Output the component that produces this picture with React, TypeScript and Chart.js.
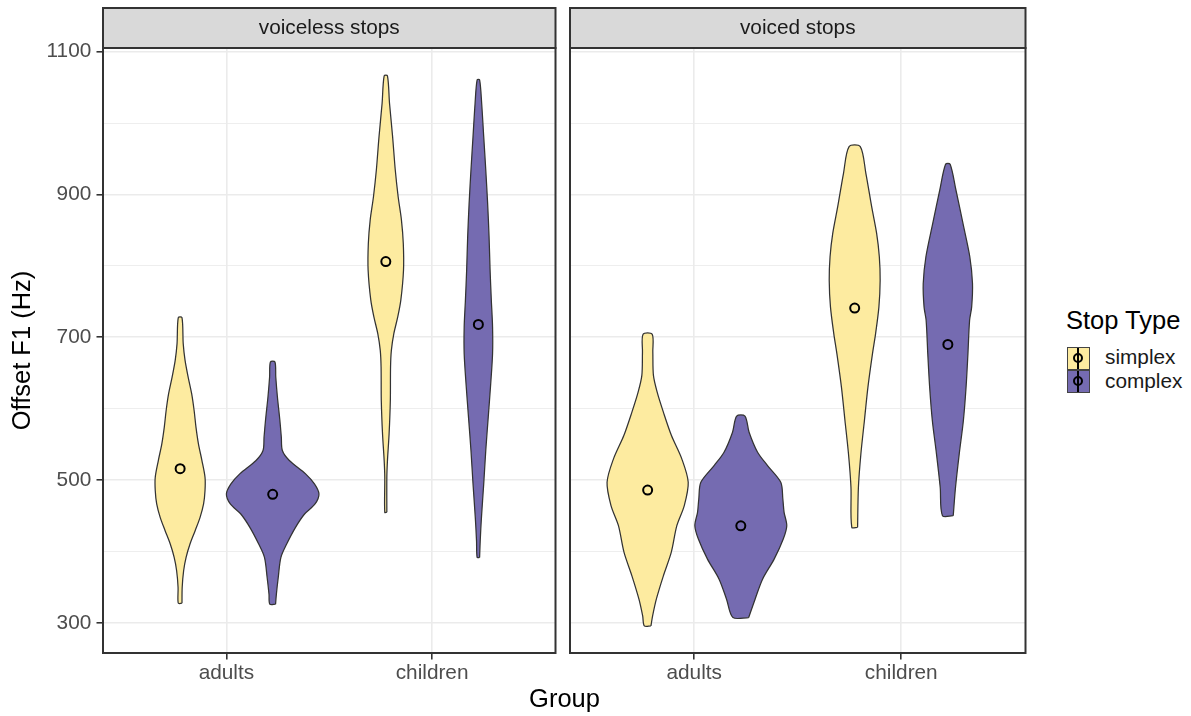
import React, { useEffect, useRef } from 'react';
import { Chart, registerables } from 'chart.js';

Chart.register(...registerables);

const FONT = '"Liberation Sans", Arial, Helvetica, sans-serif';

const groups = ['adults', 'children'];
const stopTypes = ['simplex', 'complex'];
const facetLabels = ['voiceless stops', 'voiced stops'];
const yMajorTicks = [300, 500, 700, 900, 1100];
const yMinorTicks = [400, 600, 800, 1000];
const yLimits = [257.8, 1105.2];
const xLimits = [0.4, 2.6];
const DODGE = 0.225;
const fillColors = ['#FDEBA0', '#756BB1'];

// Violin outlines: y values (Hz) and half-widths (in x-category units)
// voiceless stops
const vlAdSimY = [327.6, 349.6, 373.0, 391.7, 410.4, 429.1, 447.8, 466.6, 485.3, 504.0, 527.4, 550.8, 574.2, 597.5, 621.0, 644.3, 667.7, 691.1, 727.6];
const vlAdSimW = [0.009, 0.010, 0.017, 0.029, 0.048, 0.073, 0.097, 0.114, 0.121, 0.121, 0.106, 0.089, 0.077, 0.068, 0.056, 0.039, 0.024, 0.015, 0.009];
const vlAdComY = [326.2, 340.2, 363.6, 391.7, 410.4, 433.8, 452.5, 466.6, 480.6, 494.6, 508.7, 527.4, 541.4, 560.1, 583.5, 616.3, 644.3, 665.4];
const vlAdComW = [0.014, 0.018, 0.027, 0.040, 0.068, 0.111, 0.155, 0.206, 0.225, 0.203, 0.160, 0.081, 0.047, 0.042, 0.035, 0.023, 0.015, 0.011];
const vlChSimY = [454.8, 503.9, 527.4, 564.8, 611.6, 658.3, 681.7, 705.1, 728.5, 752.0, 794.0, 831.4, 864.2, 896.9, 934.3, 981.1, 1027.9, 1066.3];
const vlChSimW = [0.005, 0.005, 0.008, 0.016, 0.022, 0.023, 0.027, 0.039, 0.058, 0.073, 0.086, 0.085, 0.076, 0.060, 0.046, 0.033, 0.018, 0.008];
const vlChComY = [391.7, 415.1, 447.8, 494.6, 541.4, 588.2, 634.9, 677.0, 714.5, 752.0, 794.0, 840.8, 887.6, 934.3, 981.1, 1027.9, 1060.7];
const vlChComW = [0.006, 0.009, 0.015, 0.026, 0.036, 0.048, 0.060, 0.069, 0.069, 0.063, 0.057, 0.052, 0.045, 0.036, 0.026, 0.016, 0.006];
// voiced stops
const vdAdSimY = [295.8, 309.8, 333.2, 365.9, 398.7, 436.1, 464.2, 496.9, 529.7, 562.4, 595.2, 623.2, 646.6, 679.4, 704.2];
const vdAdSimW = [0.016, 0.024, 0.042, 0.076, 0.114, 0.141, 0.177, 0.196, 0.165, 0.115, 0.076, 0.046, 0.028, 0.025, 0.022];
const vdAdComY = [307.5, 333.2, 361.2, 389.3, 417.4, 436.1, 454.8, 473.5, 496.9, 520.3, 539.0, 567.1, 589.5];
const vdAdComW = [0.038, 0.069, 0.105, 0.161, 0.205, 0.222, 0.209, 0.203, 0.193, 0.129, 0.081, 0.040, 0.020];
const vdChSimY = [433.9, 490.0, 536.8, 583.5, 630.3, 677.1, 705.2, 742.6, 780.0, 812.8, 845.5, 882.9, 929.7, 967.1];
const vdChSimW = [0.014, 0.018, 0.030, 0.047, 0.064, 0.086, 0.101, 0.117, 0.123, 0.119, 0.106, 0.082, 0.054, 0.027];
const vdChComY = [450.2, 490.0, 536.8, 583.5, 630.3, 677.1, 723.9, 742.6, 775.3, 812.8, 859.5, 906.3, 942.3];
const vdChComW = [0.026, 0.037, 0.055, 0.075, 0.088, 0.097, 0.105, 0.115, 0.119, 0.106, 0.073, 0.039, 0.011];

// Means: adults-simplex, adults-complex, children-simplex, children-complex
const voicelessMeans = [516, 480, 806, 718];
const voicedMeans = [486, 436, 741, 690];

const panels = [
  {
    label: facetLabels[0],
    violins: [[vlAdSimY, vlAdSimW], [vlAdComY, vlAdComW], [vlChSimY, vlChSimW], [vlChComY, vlChComW]],
    means: voicelessMeans,
  },
  {
    label: facetLabels[1],
    violins: [[vdAdSimY, vdAdSimW], [vdAdComY, vdAdComW], [vdChSimY, vdChSimW], [vdChComY, vdChComW]],
    means: voicedMeans,
  },
];

const xPos = (k: number) => 1 + Math.floor(k / 2) + (k % 2 === 0 ? -DODGE : DODGE);

function buildDatasets(panel: any) {
  const ds: any[] = [];
  ds.push({
    type: 'line',
    label: 'means',
    data: panel.means.map((m: number, k: number) => ({ x: xPos(k), y: m })),
    showLine: false,
    pointStyle: 'circle',
    pointRadius: 4.5,
    pointBorderWidth: 2,
    pointBorderColor: '#000000',
    pointBackgroundColor: 'rgba(0,0,0,0)',
    order: 0,
  });
  panel.violins.forEach(([ys, ws]: [number[], number[]], k: number) => {
    const c = xPos(k);
    const right = ys.map((y, i) => ({ x: c + ws[i], y }));
    const left = ys.map((y, i) => ({ x: c - ws[i], y })).reverse();
    const pts = [...right, ...left, right[0]];
    ds.push({
      type: 'line',
      label: stopTypes[k % 2],
      data: pts,
      fill: 'shape',
      backgroundColor: fillColors[k % 2],
      borderColor: '#333333',
      borderWidth: 1.25,
      borderJoinStyle: 'round',
      pointRadius: 0,
      tension: 0.3,
      order: 1,
    });
  });
  return ds;
}

const decoPlugin = (label: string) => ({
  id: 'panelDeco',
  afterDraw(chart: any) {
    const { ctx, chartArea: a } = chart;
    const stripTop = 8;
    ctx.save();
    ctx.fillStyle = '#D9D9D9';
    ctx.fillRect(a.left, stripTop, a.right - a.left, a.top - stripTop);
    ctx.strokeStyle = '#333333';
    ctx.lineWidth = 2;
    ctx.strokeRect(a.left, stripTop, a.right - a.left, a.top - stripTop);
    ctx.strokeRect(a.left, a.top, a.right - a.left, a.bottom - a.top);
    ctx.fillStyle = '#1A1A1A';
    ctx.font = `20.8px ${FONT}`;
    ctx.textAlign = 'center';
    ctx.textBaseline = 'middle';
    ctx.fillText(label, (a.left + a.right) / 2, (stripTop + a.top) / 2 + 0.5);
    ctx.restore();
  },
});

const isMajor = (v: number) => yMajorTicks.includes(v);

function Panel({ panel, showY, left, width, yAxisWidth, padLeft, padRight }: any) {
  const ref = useRef<HTMLCanvasElement>(null);
  useEffect(() => {
    if (!ref.current) return;
    const chart = new Chart(ref.current, {
      type: 'line',
      data: { datasets: buildDatasets(panel) },
      options: {
        animation: false,
        responsive: false,
        events: [],
        layout: { padding: { left: padLeft, right: padRight, top: 48, bottom: 0 } },
        plugins: { legend: { display: false }, tooltip: { enabled: false } },
        scales: {
          x: {
            type: 'linear',
            min: xLimits[0],
            max: xLimits[1],
            afterBuildTicks: (s: any) => {
              s.ticks = groups.map((_, i) => ({ value: i + 1 }));
            },
            afterFit: (s: any) => {
              s.height = 63;
            },
            ticks: {
              autoSkip: false,
              maxRotation: 0,
              color: '#4D4D4D',
              font: { family: FONT, size: 20.8 },
              padding: 1,
              callback: (v: any) => groups[Math.round(v) - 1] ?? '',
            },
            grid: {
              color: '#EBEBEB',
              lineWidth: 1.6,
              tickLength: 6.5,
              tickColor: '#333333',
              tickWidth: 1.6,
            },
            border: { display: false },
          },
          y: {
            type: 'linear',
            min: yLimits[0],
            max: yLimits[1],
            afterBuildTicks: (s: any) => {
              s.ticks = [...yMajorTicks, ...yMinorTicks].sort((a, b) => a - b).map((v) => ({ value: v }));
            },
            afterFit: (s: any) => {
              s.width = yAxisWidth;
            },
            ticks: {
              display: showY,
              autoSkip: false,
              color: '#4D4D4D',
              font: { family: FONT, size: 20.8 },
              padding: 5.2,
              callback: (v: any) => (isMajor(v) ? String(v) : ''),
            },
            grid: {
              color: '#EBEBEB',
              lineWidth: (ctx: any) => (ctx.tick && isMajor(ctx.tick.value) ? 1.6 : 0.85),
              drawTicks: showY,
              tickLength: 6.5,
              tickWidth: 1.6,
              tickColor: (ctx: any) => (ctx.tick && isMajor(ctx.tick.value) ? '#333333' : 'rgba(0,0,0,0)'),
            },
            border: { display: false },
            title: {
              display: showY,
              text: 'Offset F1 (Hz)',
              color: '#000000',
              font: { family: FONT, size: 25.5 },
              padding: { top: 8, bottom: 0 },
            },
          },
        },
      } as any,
      plugins: [decoPlugin(panel.label)],
    });
    return () => chart.destroy();
  }, []);
  return (
    <canvas
      ref={ref}
      width={width}
      height={716}
      style={{ position: 'absolute', left, top: 0, width, height: 716, display: 'block' }}
    />
  );
}

function LegendKey({ color, top }: { color: string; top: number }) {
  return (
    <div
      style={{
        position: 'absolute',
        left: 1067,
        top,
        width: 22.5,
        height: 22.5,
        boxSizing: 'border-box',
        background: color,
        border: '1.6px solid #444444',
      }}
    >
      <div style={{ position: 'absolute', left: 'calc(50% - 1px)', top: 0, width: 2, height: '100%', background: '#000' }} />
      <div
        style={{
          position: 'absolute',
          left: 'calc(50% - 5px)',
          top: 'calc(50% - 5px)',
          width: 10,
          height: 10,
          boxSizing: 'border-box',
          borderRadius: '50%',
          border: '2px solid #000',
        }}
      />
    </div>
  );
}

export default function App() {
  const textBase: React.CSSProperties = { position: 'absolute', fontFamily: FONT, whiteSpace: 'nowrap' };
  return (
    <div style={{ position: 'absolute', left: 0, top: 0, width: 1191, height: 716, background: '#fff', overflow: 'hidden' }}>
      <Panel panel={panels[0]} showY={true} left={0} width={562} yAxisWidth={103} padLeft={0} padRight={2} />
      <Panel panel={panels[1]} showY={false} left={562} width={470} yAxisWidth={0} padLeft={8} padRight={4} />
      <div style={{ ...textBase, left: 464.5, width: 200, top: 686.4, textAlign: 'center', fontSize: 25.5, lineHeight: '25.5px', color: '#000' }}>
        Group
      </div>
      <div style={{ ...textBase, left: 1066, top: 307.9, fontSize: 25.5, lineHeight: '25.5px', color: '#000' }}>Stop Type</div>
      <LegendKey color={fillColors[0]} top={347} />
      <LegendKey color={fillColors[1]} top={370} />
      <div style={{ ...textBase, left: 1105, top: 347.4, fontSize: 20.8, lineHeight: '20.8px', color: '#1A1A1A' }}>{stopTypes[0]}</div>
      <div style={{ ...textBase, left: 1105, top: 370.9, fontSize: 20.8, lineHeight: '20.8px', color: '#1A1A1A' }}>{stopTypes[1]}</div>
    </div>
  );
}
